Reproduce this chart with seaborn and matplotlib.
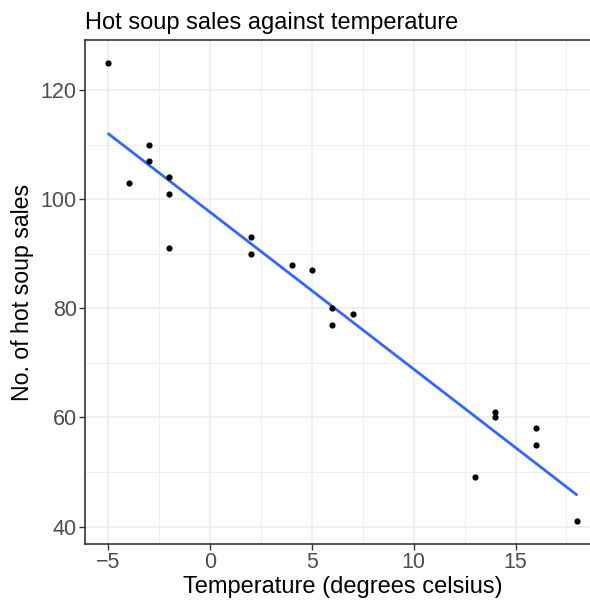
import matplotlib
matplotlib.use("Agg")
import matplotlib.pyplot as plt
import seaborn as sns
import pandas as pd
from matplotlib.ticker import MultipleLocator

temperature = [-5, -4, -3, -3, -2, -2, -2, 2, 2, 4, 5, 6, 6, 7, 13, 14, 14, 16, 16, 18]
soup_sales = [125, 103, 110, 107, 104, 101, 91, 93, 90, 88, 87, 80, 77, 79, 49, 61, 60, 58, 55, 41]

df = pd.DataFrame({"temperature": temperature, "sales": soup_sales})

sns.set_theme(style="white")
plt.rcParams['font.family'] = ['Liberation Sans', 'DejaVu Sans']

fig = plt.figure(figsize=(5.9, 6.0), dpi=100)
ax = fig.add_axes([85/590, 56/600, (600 - 85)/590, 504/600])

sns.regplot(data=df, x="temperature", y="sales", ax=ax, ci=None,
            scatter_kws=dict(s=20, color="black", alpha=1, linewidths=0, zorder=3),
            line_kws=dict(color="#3366FF", lw=2, zorder=2))

ax.set_xlim(-6.15, 19.15)
ax.set_ylim(36.8, 129.2)
ax.xaxis.set_major_locator(MultipleLocator(5))
ax.xaxis.set_minor_locator(MultipleLocator(2.5))
ax.yaxis.set_major_locator(MultipleLocator(20))
ax.yaxis.set_minor_locator(MultipleLocator(10))
ax.grid(True, which="major", color="#EBEBEB", lw=1.1)
ax.grid(True, which="minor", color="#EBEBEB", lw=0.6)
ax.set_axisbelow(True)

for s in ["left", "bottom", "top", "right"]:
    ax.spines[s].set_color("#333333")
    ax.spines[s].set_linewidth(1.2)

ax.tick_params(axis="both", which="major", length=4, width=1, color="#333333",
               labelcolor="#4D4D4D", labelsize=15.5, pad=2, bottom=True, left=True)
ax.tick_params(axis="both", which="minor", length=0)

ax.set_xlabel("Temperature (degrees celsius)", fontsize=17, color="black", labelpad=2)
ax.set_ylabel("No. of hot soup sales", fontsize=16.7, color="black", labelpad=5)
ax.set_title("Hot soup sales against temperature", fontsize=17, color="black", loc="left", pad=8)

fig.savefig("out.png", dpi=100)
